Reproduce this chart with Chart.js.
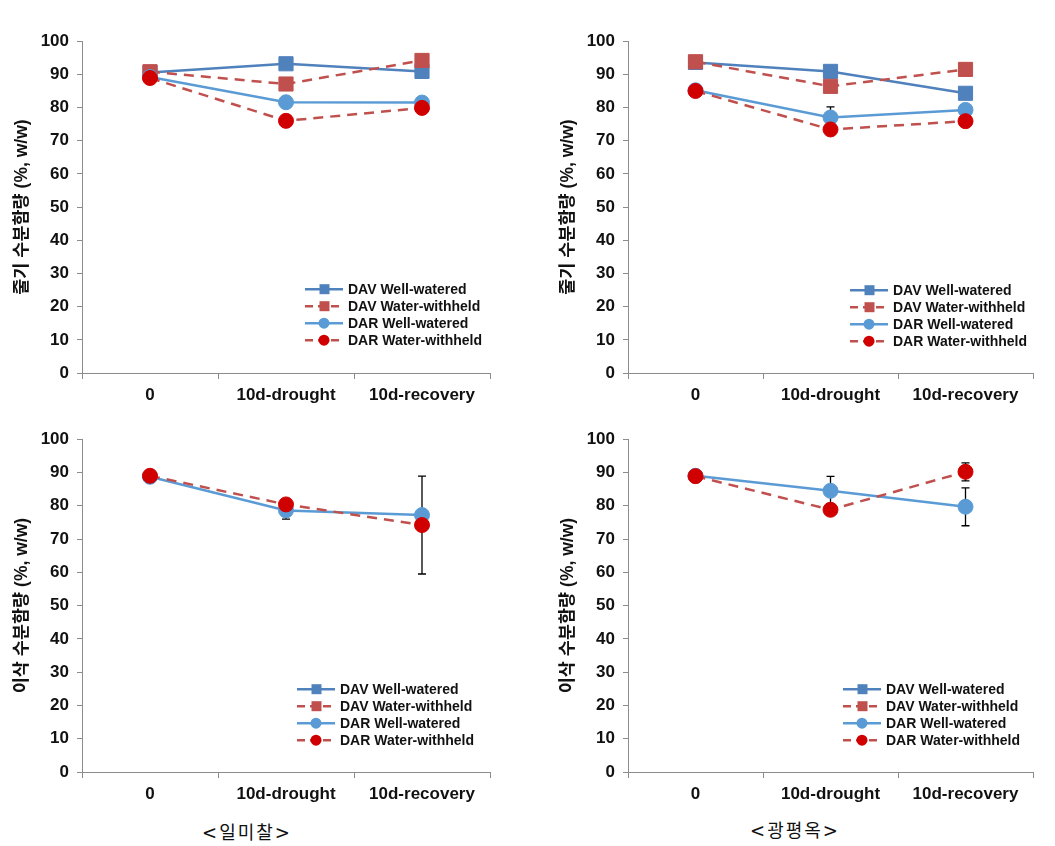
<!DOCTYPE html>
<html>
<head>
<meta charset="utf-8">
<script src="https://cdn.jsdelivr.net/npm/chart.js@4.4.1/dist/chart.umd.min.js"></script>
<style>
  body { margin: 0; background: #fff; }
  #wrap { position: relative; width: 1055px; height: 846px; overflow: hidden; }
  canvas { position: absolute; }
  .caption {
    position: absolute; width: 200px; text-align: center;
    font-family: "DejaVu Serif", "Noto Sans CJK KR", serif;
    font-size: 18px; letter-spacing: 2px; color: #111;
  }
</style>
</head>
<body>
<div id="wrap">
  <canvas id="stemA" width="520" height="395" style="left:0;top:23px"></canvas>
  <canvas id="stemB" width="525" height="395" style="left:530px;top:23px"></canvas>
  <canvas id="earA" width="520" height="395" style="left:0;top:421px"></canvas>
  <canvas id="earB" width="525" height="395" style="left:530px;top:421px"></canvas>
  <div class="caption" style="left:147px;top:818px">&lt;일미찰&gt;</div>
  <div class="caption" style="left:695px;top:816px">&lt;광평옥&gt;</div>
</div>
<script>
const categories = ['0', '10d-drought', '10d-recovery'];
const seriesNames = ['DAV Well-watered', 'DAV Water-withheld', 'DAR Well-watered', 'DAR Water-withheld'];

// 줄기 수분함량 - 일미찰
const stemA_davWell = [90.6, 93.2, 90.9];
const stemA_davWithheld = [90.8, 87.1, 94.2];
const stemA_darWell = [89.2, 81.6, 81.5];
const stemA_darWithheld = [88.9, 76.0, 79.9];

// 줄기 수분함량 - 광평옥
const stemB_davWell = [93.6, 90.9, 84.3];
const stemB_davWithheld = [93.8, 86.4, 91.5];
const stemB_darWell = [85.2, 77.0, 79.3];
const stemB_darWithheld = [85.0, 73.4, 75.9];
const stemB_darWellErr = [0, 3.2, 0];

// 이삭 수분함량 - 일미찰 (DAR only)
const earA_darWell = [88.7, 78.6, 77.2];
const earA_darWithheld = [89.0, 80.4, 74.2];
const earA_darWellErr = [0, 2.6, 0];
const earA_darWithheldErr = [0, 0, 14.7];

// 이삭 수분함량 - 광평옥 (DAR only)
const earB_darWell = [89.0, 84.5, 79.7];
const earB_darWithheld = [88.9, 78.8, 90.2];
const earB_darWellErr = [0, 4.3, 5.7];
const earB_darWithheldErr = [0, 0, 2.7];

const empty = [null, null, null];

Chart.defaults.font.family = '"Liberation Sans", Arial, "Noto Sans CJK KR", sans-serif';
Chart.defaults.color = '#111';

const styles = [
  { borderColor: '#4F81BD', backgroundColor: '#4F81BD', pointStyle: 'rect', pointRadius: 10, borderDash: [], order: 4 },
  { borderColor: '#C0504D', backgroundColor: '#C0504D', pointStyle: 'rect', pointRadius: 10, borderDash: [10, 7], order: 3 },
  { borderColor: '#5B9BD5', backgroundColor: '#5B9BD5', pointStyle: 'circle', pointRadius: 7.5, borderDash: [], order: 2 },
  { borderColor: '#C0504D', backgroundColor: '#D00000', pointStyle: 'circle', pointRadius: 7.5, borderDash: [10, 7], order: 1 }
];

function makeDatasets(values, errors) {
  return values.map(function(v, i) {
    const s = styles[i];
    return {
      label: seriesNames[i],
      data: v,
      errors: errors[i],
      borderColor: s.borderColor,
      backgroundColor: s.backgroundColor,
      pointBackgroundColor: s.backgroundColor,
      pointBorderColor: s.backgroundColor,
      pointStyle: s.pointStyle,
      pointRadius: s.pointRadius,
      pointBorderWidth: 1,
      borderWidth: 2.5,
      borderDash: s.borderDash,
      order: s.order,
      tension: 0,
      fill: false
    };
  });
}

// error bars drawn through the chart's own scales
const errorBars = {
  id: 'errorBars',
  beforeDatasetsDraw(chart) {
    const ctx = chart.ctx;
    const yScale = chart.scales.y;
    ctx.save();
    ctx.strokeStyle = '#000';
    ctx.lineWidth = 1.3;
    chart.data.datasets.forEach(function(ds, di) {
      if (!ds.errors) return;
      const meta = chart.getDatasetMeta(di);
      ds.errors.forEach(function(e, i) {
        if (!e || ds.data[i] == null) return;
        const x = meta.data[i].x;
        const yTop = yScale.getPixelForValue(ds.data[i] + e);
        const yBot = yScale.getPixelForValue(ds.data[i] - e);
        ctx.beginPath();
        ctx.moveTo(x, yTop); ctx.lineTo(x, yBot);
        ctx.moveTo(x - 4, yTop); ctx.lineTo(x + 4, yTop);
        ctx.moveTo(x - 4, yBot); ctx.lineTo(x + 4, yBot);
        ctx.stroke();
      });
    });
    ctx.restore();
  }
};

// legend inside the plot area, line sample with marker
const insideLegend = {
  id: 'insideLegend',
  afterDraw(chart, args, opts) {
    const ctx = chart.ctx;
    const x0 = chart.chartArea.left + opts.dx;
    let y = chart.chartArea.top + opts.dy;
    ctx.save();
    chart.data.datasets.forEach(function(ds) {
      ctx.strokeStyle = ds.borderColor;
      ctx.lineWidth = 2.5;
      ctx.setLineDash(ds.borderDash.length ? [8, 5] : []);
      ctx.beginPath();
      ctx.moveTo(x0, y); ctx.lineTo(x0 + 38, y);
      ctx.stroke();
      ctx.setLineDash([]);
      ctx.fillStyle = ds.pointBackgroundColor;
      ctx.beginPath();
      if (ds.pointStyle === 'rect') ctx.rect(x0 + 14.5, y - 5, 10, 10);
      else ctx.arc(x0 + 19, y, 5.5, 0, Math.PI * 2);
      ctx.fill();
      ctx.fillStyle = '#111';
      ctx.font = 'bold 14px "Liberation Sans", Arial, sans-serif';
      ctx.textBaseline = 'middle';
      ctx.fillText(ds.label, x0 + 43, y + 1);
      y += 17;
    });
    ctx.restore();
  }
};

function makeChart(id, title, values, errors, padLeft, padRight, xHeight, legendPos) {
  const axisColor = '#8c8c8c';
  return new Chart(document.getElementById(id), {
    type: 'line',
    data: { labels: categories, datasets: makeDatasets(values, errors) },
    plugins: [errorBars, insideLegend],
    options: {
      responsive: false,
      animation: false,
      devicePixelRatio: 1,
      layout: { padding: { top: 10, right: padRight, left: padLeft, bottom: 0 } },
      plugins: {
        legend: { display: false },
        tooltip: { enabled: false },
        insideLegend: legendPos
      },
      scales: {
        x: {
          offset: true,
          afterFit: function(s) { s.height = xHeight; },
          grid: { offset: true, drawOnChartArea: false, tickLength: 6, color: axisColor },
          border: { color: axisColor, width: 1 },
          ticks: { maxRotation: 0, autoSkip: false, padding: 6, color: '#111', font: { size: 17, weight: 'bold' } }
        },
        y: {
          min: 0, max: 100,
          afterFit: function(s) { s.width = 82; },
          grid: { drawOnChartArea: false, tickLength: 5, color: axisColor },
          border: { color: axisColor, width: 1 },
          ticks: { stepSize: 10, padding: 8, color: '#111', font: { size: 17, weight: 'bold' } },
          title: {
            display: true, text: title, color: '#111',
            padding: { top: 12, bottom: 0 },
            font: { size: 17.5, weight: 'bold' }
          }
        }
      }
    }
  });
}

makeChart('stemA', '줄기 수분함량 (%, w/w)',
  [stemA_davWell, stemA_davWithheld, stemA_darWell, stemA_darWithheld],
  [null, null, null, null], 0, 30, 45, { dx: 223, dy: 248 });

makeChart('stemB', '줄기 수분함량 (%, w/w)',
  [stemB_davWell, stemB_davWithheld, stemB_darWell, stemB_darWithheld],
  [null, null, stemB_darWellErr, null], 16, 22, 45, { dx: 222, dy: 249 });

makeChart('earA', '이삭 수분함량 (%, w/w)',
  [empty, empty, earA_darWell, earA_darWithheld],
  [null, null, earA_darWellErr, earA_darWithheldErr], 0, 30, 44, { dx: 215, dy: 250 });

makeChart('earB', '이삭 수분함량 (%, w/w)',
  [empty, empty, earB_darWell, earB_darWithheld],
  [null, null, earB_darWellErr, earB_darWithheldErr], 16, 22, 44, { dx: 215, dy: 250 });
</script>
</body>
</html>
